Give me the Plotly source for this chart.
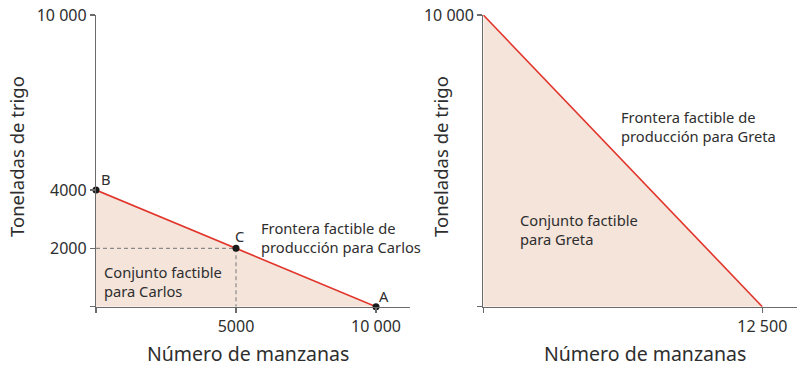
import plotly.graph_objects as go

# ---- data ----
carlos_x = [0, 5000, 10000]
carlos_y = [4000, 2000, 0]
point_labels = ["B", "C", "A"]
greta_x = [0, 12500]
greta_y = [10000, 0]

left_xticks = [0, 5000, 10000]
left_xticktext = ["", "5000", "10 000"]
left_yticks = [0, 2000, 4000, 10000]
left_yticktext = ["", "2000", "4000", "10 000"]
right_xticks = [0, 12500]
right_xticktext = ["", "12 500"]
right_yticks = [0, 10000]
right_yticktext = ["", "10 000"]

W, H = 810, 372
FONT = "Noto Sans"
TXT = "#2e2e2e"
AXC = "#6b6b6b"
RED = "#e1352b"
FILL = "#f4e4da"

def px_x(p):
    return p / W

def px_y(p):
    return 1 - p / H

fig = go.Figure()

# Left panel (Carlos)
fig.add_trace(go.Scatter(
    x=[0] + carlos_x + [0], y=[0] + carlos_y + [0],
    fill="toself", fillcolor=FILL, line=dict(width=0), mode="lines",
    hoverinfo="skip", xaxis="x", yaxis="y"))
fig.add_trace(go.Scatter(
    x=[carlos_x[0], carlos_x[1], carlos_x[1]], y=[carlos_y[1], carlos_y[1], 0],
    mode="lines", line=dict(color="#8a8a8a", width=1.2, dash="4px,3px"),
    xaxis="x", yaxis="y"))
fig.add_trace(go.Scatter(
    x=carlos_x, y=carlos_y, mode="lines",
    line=dict(color=RED, width=1.6), xaxis="x", yaxis="y"))
fig.add_trace(go.Scatter(
    x=carlos_x, y=carlos_y, mode="markers",
    marker=dict(color="#1a1a1a", size=7), cliponaxis=False,
    xaxis="x", yaxis="y"))

# Right panel (Greta)
fig.add_trace(go.Scatter(
    x=[0] + greta_x + [0], y=[0] + greta_y + [0],
    fill="toself", fillcolor=FILL, line=dict(width=0), mode="lines",
    hoverinfo="skip", xaxis="x2", yaxis="y2"))
fig.add_trace(go.Scatter(
    x=greta_x, y=greta_y, mode="lines",
    line=dict(color=RED, width=1.6), cliponaxis=False,
    xaxis="x2", yaxis="y2"))

axis_common = dict(
    showgrid=False, zeroline=False, showline=True, linecolor=AXC, linewidth=1.2,
    ticks="outside", ticklen=5, tickcolor=AXC, tickwidth=1.2, automargin=False,
    tickfont=dict(family=FONT, size=16, color=TXT), fixedrange=True)

ydom = [px_y(306.7), px_y(15)]

fig.update_layout(
    template="none",
    width=W, height=H, margin=dict(l=0, r=0, t=0, b=0, pad=0),
    paper_bgcolor="white", plot_bgcolor="white", showlegend=False,
    xaxis=dict(domain=[px_x(96), px_x(410)], range=[0, 11214],
               tickvals=left_xticks, ticktext=left_xticktext, anchor="y",
               **axis_common),
    yaxis=dict(domain=ydom, range=[0, 10000],
               tickvals=left_yticks, ticktext=left_yticktext, anchor="x",
               **axis_common),
    xaxis2=dict(domain=[px_x(483.3), px_x(796.7)], range=[0, 14040],
                tickvals=right_xticks, ticktext=right_xticktext, anchor="y2",
                **axis_common),
    yaxis2=dict(domain=ydom, range=[0, 10000],
                tickvals=right_yticks, ticktext=right_yticktext, anchor="x2",
                **axis_common),
)

def ann(text, x, y, xref="paper", yref="paper", size=14.7,
        xanchor="center", yanchor="middle", **kw):
    fig.add_annotation(text=text, x=x, y=y, xref=xref, yref=yref,
                       showarrow=False, xanchor=xanchor, yanchor=yanchor,
                       font=dict(family=FONT, size=size, color=TXT), **kw)

# axis titles
ann("Toneladas de trigo", px_x(16), px_y(157), size=18.5, textangle=-90)
ann("Número de manzanas", px_x(248), px_y(353), size=19.5)
ann("Toneladas de trigo", px_x(440), px_y(157), size=18.5, textangle=-90)
ann("Número de manzanas", px_x(645), px_y(353), size=19.5)

# point labels
offsets = {"B": (10, 11), "C": (3, 12), "A": (8, 11)}
for lx, ly, lab in zip(carlos_x, carlos_y, point_labels):
    dx, dy = offsets[lab]
    ann(lab, lx, ly, xref="x", yref="y", xshift=dx, yshift=dy)

# region labels
ann("Frontera factible de<br>producción para Carlos", px_x(259), px_y(237),
    xanchor="left", align="left")
ann("Conjunto factible<br>para Carlos", px_x(102), px_y(281),
    xanchor="left", align="left")
ann("Frontera factible de<br>producción para Greta", px_x(619), px_y(127),
    xanchor="left", align="left")
ann("Conjunto factible<br>para Greta", px_x(518), px_y(229),
    xanchor="left", align="left")

fig.write_html("out.html",
               config={"displayModeBar": False, "staticPlot": True},
               post_script="document.body.style.margin='0';"
                           "document.body.style.overflow='hidden';")
